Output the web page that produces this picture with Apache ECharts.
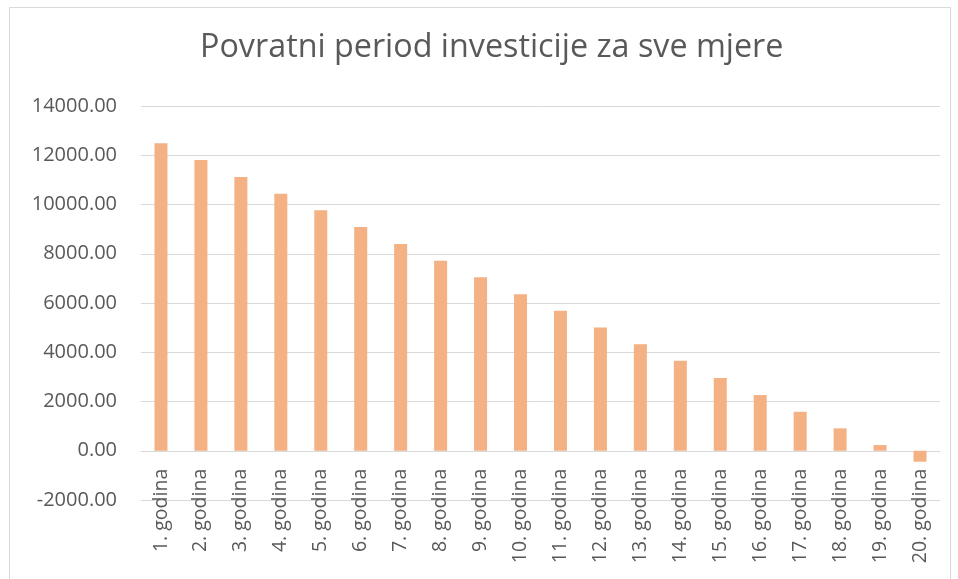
<!DOCTYPE html>
<html>
<head>
<meta charset="utf-8">
<script src="https://cdn.jsdelivr.net/npm/echarts@6/dist/echarts.min.js"></script>
<style>
html,body{margin:0;padding:0;background:#fff;}
#chart{width:958px;height:579px;}
</style>
</head>
<body>
<div id="chart"></div>
<script>
const chartTitle = 'Povratni period investicije za sve mjere';
const categories = ['1. godina','2. godina','3. godina','4. godina','5. godina','6. godina','7. godina','8. godina','9. godina','10. godina','11. godina','12. godina','13. godina','14. godina','15. godina','16. godina','17. godina','18. godina','19. godina','20. godina'];
const values = [12490, 11810, 11120, 10440, 9765, 9087, 8400, 7720, 7047, 6360, 5682, 5004, 4328, 3651, 2955, 2262, 1584, 910, 232, -446];
const yMin = -2000, yMax = 14000;

const gridTop = 106, gridBottom = 79;
const plotH = 579 - gridTop - gridBottom;
const zeroOffset = -plotH * (0 - yMin) / (yMax - yMin);

const chart = echarts.init(document.getElementById('chart'), null, {renderer:'canvas'});
chart.setOption({
  animation:false,
  backgroundColor:'#fff',
  graphic:[{type:'rect',shape:{x:9.5,y:7.5,width:941,height:600},style:{fill:'none',stroke:'#d9d9d9',lineWidth:1},silent:true}],
  title:{text:chartTitle,left:195,top:27,textStyle:{fontFamily:'Open Sans',fontWeight:'normal',fontSize:32.3,color:'#595959'}},
  grid:{left:141,right:18,top:gridTop,bottom:gridBottom,containLabel:false,outerBoundsMode:'none'},
  xAxis:{type:'category',data:categories,offset:zeroOffset,
    axisLine:{show:true,onZero:false,lineStyle:{color:'#d9d9d9',width:1}},
    axisTick:{show:false},
    axisLabel:{rotate:90,interval:0,margin:18,fontFamily:'Open Sans',fontSize:19.5,color:'#595959'}},
  yAxis:{type:'value',min:yMin,max:yMax,interval:2000,
    axisLine:{show:false},axisTick:{show:false},
    splitLine:{lineStyle:{color:'#d9d9d9',width:1}},
    axisLabel:{margin:24,fontFamily:'Open Sans',fontSize:20,color:'#595959',formatter:v=>v.toFixed(2)}},
  series:[{type:'bar',data:values,barWidth:13,itemStyle:{color:'#F4B183'}}]
});
</script>
</body>
</html>
